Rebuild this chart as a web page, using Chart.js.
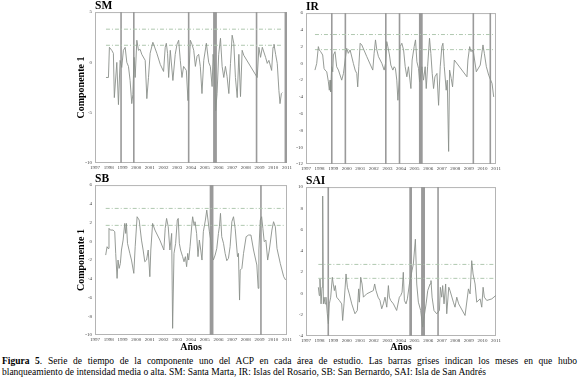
<!DOCTYPE html>
<html>
<head>
<meta charset="utf-8">
<script src="https://cdn.jsdelivr.net/npm/chart.js"></script>
<style>
  body { margin: 0; background: #fff; width: 579px; height: 390px; position: relative; overflow: hidden; }
  canvas { position: absolute; }
  #caption { position: absolute; left: 2px; top: 356px; width: 575px; font-family: "Liberation Serif", serif; font-size: 9.5px; line-height: 11px; color: #000; }
  #caption .l1 { text-align: justify; text-align-last: justify; white-space: nowrap; }
</style>
</head>
<body>
<canvas id="sm-plot" width="235" height="175" style="left:60px;top:0px"></canvas>
<canvas id="ir-plot" width="215" height="174" style="left:290px;top:1px"></canvas>
<canvas id="sb-plot" width="235" height="182" style="left:60px;top:173px"></canvas>
<canvas id="sai-plot" width="215" height="180" style="left:290px;top:175px"></canvas>
<div id="caption">
  <div class="l1"><b>Figura 5</b>. Serie de tiempo de la componente uno del ACP en cada área de estudio. Las barras grises indican los meses en que hubo</div>
  <div>blanqueamiento de intensidad media o alta. SM: Santa Marta, IR: Islas del Rosario, SB: San Bernardo, SAI: Isla de San Andrés</div>
</div>
<script>
// SM - Santa Marta
const smYears = [1997.80,1997.98,1998.05,1998.22,1998.34,1998.41,1998.59,1998.71,1998.83,1998.95,1999.07,1999.20,1999.32,1999.44,1999.56,1999.68,1999.76,1999.85,1999.93,2000.05,2000.17,2000.29,2000.41,2000.66,2000.78,2000.90,2001.02,2001.22,2001.51,2001.76,2002.00,2002.12,2002.20,2002.29,2002.37,2002.49,2002.68,2002.85,2002.98,2003.10,2003.22,2003.34,2003.46,2003.66,2003.78,2003.95,2004.07,2004.20,2004.32,2004.44,2004.56,2004.68,2004.80,2004.93,2005.12,2005.29,2005.41,2005.54,2005.61,2005.71,2005.80,2005.90,2006.02,2006.15,2006.27,2006.39,2006.51,2006.63,2006.76,2006.88,2007.00,2007.12,2007.24,2007.37,2007.49,2007.61,2007.73,2007.85,2008.83,2008.95,2009.07,2009.20,2009.44,2009.56,2009.68,2009.88,2009.98,2010.05,2010.17,2010.29,2010.41,2010.49,2010.59,2010.66];
const smValues = [-1.5,-1.5,1.5,1.2,0.9,-3.5,0.0,-4.2,0.2,-0.5,1.2,1.5,0.0,-0.4,-1.8,-4.1,-3.2,0.5,-1.5,2.2,1.2,1.3,0.8,0.2,-3.6,-1.5,0.9,2.0,0.9,-0.2,-0.9,1.5,1.9,0.9,-1.5,1.2,-1.8,0.8,1.8,2.2,0.2,-1.5,-0.4,-0.8,-3.8,2.2,1.8,1.2,-0.4,0.6,0.8,-0.4,-3.1,0.2,1.9,0.0,-0.4,-2.4,0.8,-0.4,-4.8,-3.1,0.8,2.4,-0.4,-1.5,-0.4,-1.4,-3.1,-0.1,2.7,1.9,-1.5,-3.5,0.8,-3.4,1.2,0.7,-1.5,1.5,0.5,1.5,0.5,-0.1,0.2,-0.8,1.5,1.8,0.8,-0.1,-2.8,-4.1,-3.1,-3.0];
const smLimits = [3.3, 1.7];
const smBleaching = [1998.90,1999.83,2003.83,2005.67,2005.75,2005.83,2008.78,2010.88,2010.96];

// IR - Islas del Rosario
const irYears = [1997.66,1997.79,1997.91,1997.98,1998.08,1998.23,1998.33,1998.40,1998.53,1998.65,1998.72,1998.77,1998.82,1998.89,1998.97,1999.02,1999.14,1999.26,1999.39,1999.63,1999.76,1999.90,2000.00,2000.12,2000.25,2000.49,2000.62,2000.74,2000.81,2000.89,2000.99,2001.11,2001.48,2001.92,2002.02,2002.12,2002.22,2002.34,2002.59,2002.76,2002.86,2002.95,2003.03,2003.15,2003.25,2003.40,2003.50,2003.59,2003.69,2003.77,2003.87,2003.94,2004.06,2004.19,2004.31,2004.43,2004.55,2004.73,2004.82,2004.97,2005.07,2005.17,2005.29,2005.37,2005.46,2005.54,2005.66,2005.78,2005.86,2005.96,2006.10,2006.20,2006.30,2006.40,2006.50,2006.65,2006.77,2006.89,2007.01,2007.09,2007.19,2007.33,2007.41,2007.51,2007.58,2007.70,2007.80,2007.93,2008.86,2008.93,2009.06,2009.16,2009.25,2009.35,2009.55,2009.84,2010.04,2010.14,2010.29,2010.46,2010.71,2010.83];
const irValues = [-0.8,0.0,2.0,1.6,1.4,1.0,-0.6,-0.8,-1.0,-2.2,-3.2,-2.0,-3.4,-0.4,-1.0,1.0,1.4,-0.4,-0.8,-2.0,-1.2,0.6,1.8,1.2,1.6,0.0,-0.8,-1.2,-2.8,-0.4,2.4,2.2,0.8,-0.8,1.2,2.8,1.6,0.8,0.0,-0.8,0.0,2.6,2.0,1.0,-0.2,-0.8,-0.4,-0.6,-2.0,-4.4,-2.0,2.0,2.4,1.6,-0.4,-1.6,-0.4,-3.0,0.4,2.0,2.8,0.2,-0.6,-2.2,-1.2,-0.4,-2.0,-0.4,-3.0,-0.4,3.0,1.2,-1.2,-3.0,-1.6,-1.2,-5.0,-0.4,2.0,2.4,-0.4,-3.2,-2.0,-10.5,-0.8,-1.8,-2.8,0.4,-1.6,0.4,2.0,1.4,1.6,1.2,-1.0,-0.2,2.2,1.2,-0.4,-1.4,-2.4,-4.0];
const irLimits = [3.44, 1.64];
const irBleaching = [1998.90,1999.90,2002.88,2003.89,2005.38,2005.46,2005.54,2009.33,2010.58];

// SB - San Bernardo
const sbYears = [1997.78,1997.88,1997.95,1998.02,1998.12,1998.32,1998.44,1998.51,1998.61,1998.68,1998.76,1998.85,1998.93,1999.05,1999.17,1999.24,1999.29,1999.37,1999.54,1999.66,1999.83,1999.93,2000.07,2000.22,2000.39,2000.51,2000.63,2000.76,2000.88,2001.00,2001.07,2001.20,2001.37,2001.73,2002.02,2002.12,2002.22,2002.34,2002.46,2002.59,2002.66,2002.76,2002.88,2003.00,2003.07,2003.15,2003.24,2003.39,2003.49,2003.59,2003.68,2003.76,2003.83,2003.93,2004.07,2004.12,2004.22,2004.29,2004.41,2004.51,2004.61,2004.71,2004.80,2004.90,2005.05,2005.15,2005.24,2005.34,2005.44,2005.54,2005.63,2005.76,2005.88,2006.00,2006.07,2006.15,2006.24,2006.37,2006.49,2006.61,2006.73,2006.85,2006.98,2007.10,2007.22,2007.39,2007.46,2007.54,2007.59,2007.71,2007.83,2008.02,2008.20,2008.37,2008.56,2008.80,2008.90,2008.95,2009.05,2009.15,2009.24,2009.34,2009.46,2009.59,2009.71,2009.90,2010.02,2010.15,2010.27,2010.51,2010.76,2010.90];
const sbValues = [-1.47,-0.58,-0.76,1.38,1.2,1.2,1.02,-1.29,-3.96,-2.0,-2.89,-2.36,-0.93,0.13,1.91,0.84,1.91,-0.22,-1.29,-2.0,-3.42,-0.58,2.62,2.27,0.13,-0.93,-2.18,-2.0,-0.93,-3.78,-0.93,1.91,1.2,0.13,-0.93,1.38,2.44,1.56,-0.93,0.84,-9.29,-1.29,-0.22,2.27,2.44,-0.22,-0.93,-1.64,-2.18,-1.64,-2.71,-1.29,-2.0,-0.58,1.91,2.62,1.73,2.09,0.84,-1.64,0.13,-0.93,-2.0,1.02,2.27,3.33,2.27,1.02,0.13,-1.47,-2.0,-1.47,-0.76,0.84,1.56,2.98,0.49,-0.22,-1.29,-2.07,-1.82,-0.58,2.09,2.62,1.38,-1.64,-1.29,-6.27,-3.07,-2.89,-1.29,0.49,0.67,0.67,-0.93,-2.53,-5.02,-0.93,2.27,2.62,1.38,-0.04,0.13,-2.0,-0.93,1.2,2.09,1.56,-0.76,-2.36,-3.78,-4.13];
const sbLimits = [3.51, 1.7];
const sbBleaching = [2005.42,2005.50,2005.58,2009.10];

// SAI - Isla de San Andres
const saiYears = [1997.91,1997.98,1998.03,1998.11,1998.18,1998.23,1998.28,1998.33,1998.40,1998.47,1998.57,1998.65,1998.72,1998.82,1998.94,1999.01,1999.09,1999.16,1999.26,1999.46,1999.63,1999.70,1999.80,1999.95,2000.05,2000.19,2000.37,2000.61,2000.78,2000.88,2000.93,2001.03,2001.13,2001.23,2001.47,2001.96,2002.06,2002.16,2002.31,2002.45,2002.58,2002.70,2002.82,2002.95,2003.07,2003.14,2003.24,2003.44,2003.68,2003.88,2003.98,2004.08,2004.17,2004.25,2004.37,2004.47,2004.62,2004.81,2004.91,2005.06,2005.16,2005.28,2005.45,2005.60,2005.70,2005.85,2005.97,2006.14,2006.21,2006.29,2006.43,2006.63,2006.83,2006.90,2007.00,2007.07,2007.17,2007.29,2007.37,2007.52,2007.61,2007.86,2007.98,2008.11,2008.25,2008.72,2008.97,2009.09,2009.21,2009.31,2009.46,2009.58,2009.83,2009.95,2010.05,2010.14,2010.32,2010.69,2010.98];
const saiValues = [0.58,-0.2,1.36,-0.98,0.58,9.16,-0.98,-0.35,-0.98,-0.35,-1.91,-2.85,-0.98,-0.35,1.52,0.89,0.27,0.74,-0.35,-0.66,-0.98,-2.54,-0.98,1.83,0.58,-0.04,-0.98,-1.91,-1.6,0.43,-0.82,1.52,0.89,-0.35,-0.04,0.27,0.89,0.27,-0.35,-0.66,-1.44,-0.98,-0.35,-1.29,0.74,-0.35,-0.66,-0.98,-1.6,-0.35,-0.2,0.12,1.99,-0.66,-0.98,-0.51,0.89,2.14,2.77,5.1,0.89,-0.82,-1.6,-3.16,-2.22,-0.98,0.27,0.89,1.21,-0.35,-1.6,-1.91,-1.6,0.58,-0.35,0.74,-0.98,0.89,-1.91,0.58,0.27,-0.82,-1.29,-0.35,-0.98,-2.07,0.43,-0.04,3.08,1.83,0.89,-0.82,-0.51,-1.29,0.58,-0.35,-0.66,-0.51,-0.2];
const saiLimits = [2.73, 1.42];
const saiBleaching = [1998.64,2004.67,2004.75,2005.54,2005.63,2005.71,2006.73];

const serif = "'Liberation Serif', 'Times New Roman', serif";
const lineColor = '#8a908a';
const limitColor = '#b0c8b0';
const barColor = '#9a9a9a';

const framePlugin = {
    id: 'frame',
    beforeDatasetsDraw(chart) {
        const {ctx, chartArea} = chart;
        ctx.save();
        ctx.strokeStyle = '#b4b4b4';
        ctx.lineWidth = 1;
        ctx.strokeRect(chartArea.left + 0.5, chartArea.top + 0.5, chartArea.right - chartArea.left - 1, chartArea.bottom - chartArea.top - 1);
        ctx.restore();
    }
};

function toPoints(xs, ys) {
    return xs.map((x, i) => ({x: x, y: ys[i]}));
}

// gray vertical bars for each bleaching month, broken by nulls
function bleachingPoints(months, yMin, yMax) {
    const pts = [];
    months.forEach(m => {
        pts.push({x: m, y: yMin}, {x: m, y: yMax}, {x: m, y: null});
    });
    return pts;
}

function limitPoints(xs, value) {
    return [{x: xs[0], y: value}, {x: xs[xs.length - 1], y: value}];
}

function createPanel(chartId, cfg) {
    const datasets = [
        {data: toPoints(cfg.years, cfg.values), borderColor: lineColor, borderWidth: 0.9},
        {data: limitPoints(cfg.years, cfg.limits[0]), borderColor: limitColor, borderWidth: 1, borderDash: [4, 2, 1, 2]},
        {data: limitPoints(cfg.years, cfg.limits[1]), borderColor: limitColor, borderWidth: 1, borderDash: [4, 2, 1, 2]},
        {data: bleachingPoints(cfg.bleaching, cfg.yMin, cfg.yMax), borderColor: barColor, borderWidth: 1.6, spanGaps: false}
    ];

    new Chart(chartId, {
        type: 'line',
        data: {datasets: datasets},
        options: {
            responsive: false,
            animation: false,
            events: [],
            elements: {point: {radius: 0}, line: {tension: 0}},
            layout: {padding: {left: 0, right: cfg.rightPad, top: 0, bottom: 0}},
            plugins: {
                legend: {display: false},
                tooltip: {enabled: false},
                title: {
                    display: true,
                    text: cfg.label,
                    align: 'start',
                    fullSize: false,
                    padding: 0,
                    color: '#000',
                    font: {family: serif, size: 11.5, weight: 'bold', lineHeight: 1.05}
                }
            },
            scales: {
                x: {
                    type: 'linear',
                    min: 1997,
                    max: 2011,
                    grid: {display: false, drawTicks: false},
                    border: {display: false},
                    ticks: {
                        stepSize: 1, autoSkip: false, maxRotation: 0, padding: 2,
                        color: '#444', font: {family: serif, size: 5},
                        callback: v => String(v)
                    },
                    title: {
                        display: cfg.showYears, text: 'Años', color: '#000',
                        padding: {top: 0, bottom: 2},
                        font: {family: serif, size: 10, weight: 'bold', lineHeight: 1.2}
                    },
                    afterFit: scale => { scale.height = cfg.xHeight; }
                },
                y: {
                    min: cfg.yMin,
                    max: cfg.yMax,
                    grid: {display: false, drawTicks: false},
                    border: {display: false},
                    ticks: {
                        stepSize: cfg.yStep, padding: 3, autoSkip: false,
                        color: '#444', font: {family: serif, size: 5}
                    },
                    title: {
                        display: cfg.showComponent, text: 'Componente 1', color: '#000',
                        padding: {top: 15, bottom: 0},
                        font: {family: serif, size: 10, weight: 'bold', lineHeight: 1.2}
                    },
                    afterFit: scale => { scale.width = cfg.yWidth; }
                }
            }
        },
        plugins: [framePlugin]
    });
}

createPanel('sm-plot', {label: 'SM', years: smYears, values: smValues, limits: smLimits, bleaching: smBleaching,
    yMin: -10, yMax: 5, yStep: 5, yWidth: 35, xHeight: 12, rightPad: 8, showComponent: true, showYears: false});
createPanel('ir-plot', {label: 'IR', years: irYears, values: irValues, limits: irLimits, bleaching: irBleaching,
    yMin: -12, yMax: 6, yStep: 2, yWidth: 16, xHeight: 11, rightPad: 9, showComponent: false, showYears: false});
createPanel('sb-plot', {label: 'SB', years: sbYears, values: sbValues, limits: sbLimits, bleaching: sbBleaching,
    yMin: -10, yMax: 6, yStep: 2, yWidth: 35, xHeight: 20, rightPad: 8, showComponent: true, showYears: true});
createPanel('sai-plot', {label: 'SAI', years: saiYears, values: saiValues, limits: saiLimits, bleaching: saiBleaching,
    yMin: -4, yMax: 10, yStep: 2, yWidth: 16, xHeight: 19, rightPad: 9, showComponent: false, showYears: true});
</script>
</body>
</html>
